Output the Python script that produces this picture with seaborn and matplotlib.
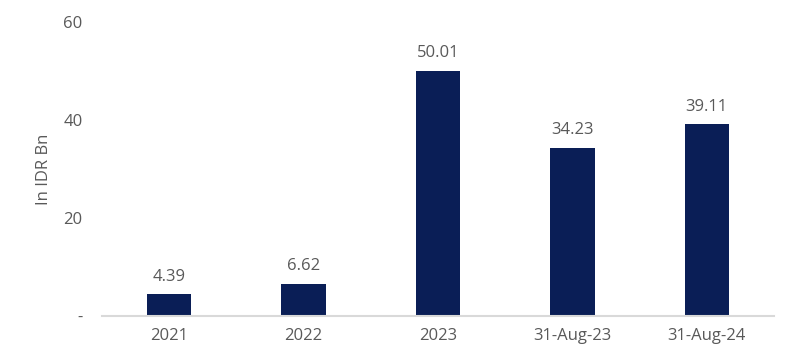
import matplotlib
matplotlib.use("Agg")
import matplotlib.pyplot as plt
import seaborn as sns
import pandas as pd

# --- datos ---
periodos = ["2021", "2022", "2023", "31-Aug-23", "31-Aug-24"]
valores = [4.39, 6.62, 50.01, 34.23, 39.11]
y_ticks = [0, 20, 40, 60]
y_tick_labels = ["-", "20", "40", "60"]

df = pd.DataFrame({"Periodo": periodos, "Valor": valores})

sns.set_style("white")
plt.rcParams["font.family"] = ["Open Sans", "DejaVu Sans"]

gris = "#595959"
azul = "#0A1E56"

fig = plt.figure(figsize=(7.98, 3.64), dpi=100)
ax = fig.add_axes([102 / 798, 1 - 316 / 364, 672 / 798, 294 / 364])

sns.barplot(data=df, x="Periodo", y="Valor", color=azul, width=0.33,
            saturation=1, linewidth=0, ax=ax)

for i, v in enumerate(valores):
    ax.text(i, v + 2.0, f"{v:.2f}", ha="center", va="bottom",
            fontsize=12, color=gris)

ax.set_ylim(0, 60)
ax.set_xlim(-0.5, 4.5)
ax.set_yticks(y_ticks)
ax.set_yticklabels(y_tick_labels)
ax.set_xlabel("")
ax.set_ylabel("In IDR Bn", fontsize=12, color=gris, labelpad=8)
ax.tick_params(axis="both", length=0, labelsize=12, labelcolor=gris)
ax.tick_params(axis="x", pad=9)
ax.tick_params(axis="y", pad=14)

for s in ["top", "right", "left"]:
    ax.spines[s].set_visible(False)
ax.spines["bottom"].set_color("#D9D9D9")
ax.spines["bottom"].set_linewidth(1.5)

fig.savefig("out.png", dpi=100)
